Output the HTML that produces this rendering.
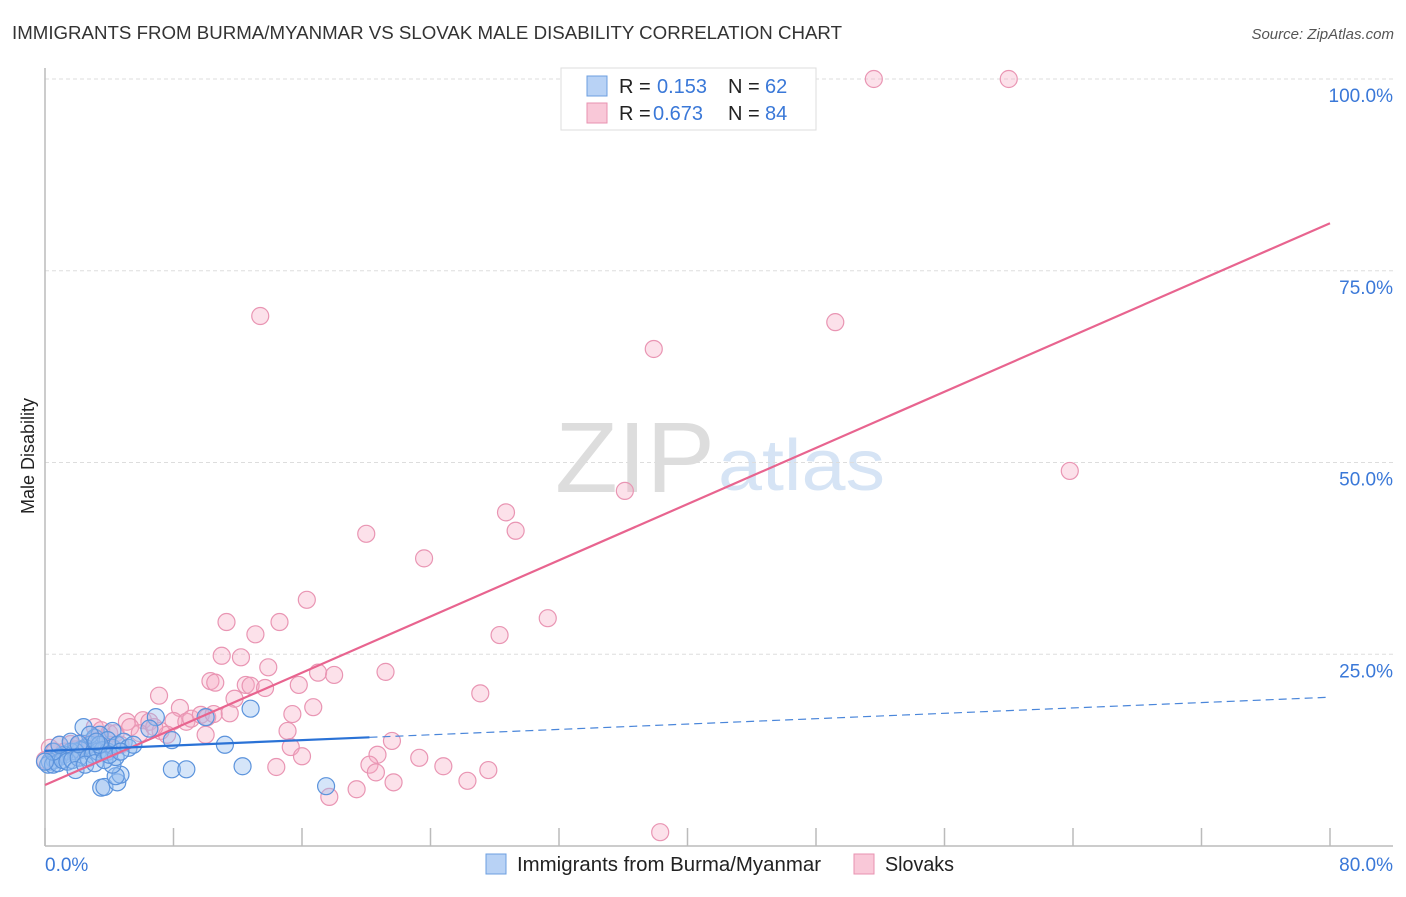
<!DOCTYPE html>
<html><head><meta charset="utf-8"><style>
body{margin:0;background:#fff;font-family:"Liberation Sans",sans-serif;}
svg text{font-family:"Liberation Sans",sans-serif;}
</style></head><body>
<svg id="chart" width="1406" height="892" xmlns="http://www.w3.org/2000/svg">
<text x="12" y="39" font-size="18" fill="#333" textLength="830" lengthAdjust="spacingAndGlyphs">IMMIGRANTS FROM BURMA/MYANMAR VS SLOVAK MALE DISABILITY CORRELATION CHART</text>
<text x="1394" y="39" font-size="15" fill="#555" text-anchor="end" font-style="italic">Source: ZipAtlas.com</text>
<text x="715" y="492" font-size="100" fill="#ddd" font-family="Liberation Serif" text-anchor="end" textLength="160" lengthAdjust="spacingAndGlyphs">ZIP</text>
<text x="718" y="490" font-size="72" fill="#d6e4f5" textLength="167" lengthAdjust="spacingAndGlyphs">atlas</text>
<g id="grid"></g>
<g id="axes"></g>
<g id="pts"></g>
<g id="trend"></g>
<text transform="translate(34,456) rotate(-90)" font-size="18" fill="#222" text-anchor="middle">Male Disability</text>
<g>
<rect x="561" y="68" width="255" height="62" fill="#fff" stroke="#ddd"/>
<rect x="587" y="76" width="20" height="20" fill="#b8d2f5" stroke="#6c9fe0"/>
<text x="619" y="93" font-size="20" fill="#222">R = </text><text x="657" y="93" font-size="20" fill="#3a78d8">0.153</text>
<text x="728" y="93" font-size="20" fill="#222">N = </text><text x="765" y="93" font-size="20" fill="#3a78d8">62</text>
<rect x="587" y="103" width="20" height="20" fill="#f9c8d8" stroke="#e892b0"/>
<text x="619" y="120" font-size="20" fill="#222">R = </text><text x="653" y="120" font-size="20" fill="#3a78d8">0.673</text>
<text x="728" y="120" font-size="20" fill="#222">N = </text><text x="765" y="120" font-size="20" fill="#3a78d8">84</text>
</g>
<g>
<rect x="486" y="854" width="20" height="20" fill="#b8d2f5" stroke="#6c9fe0"/>
<text x="517" y="871" font-size="20" fill="#222" textLength="304" lengthAdjust="spacingAndGlyphs">Immigrants from Burma/Myanmar</text>
<rect x="854" y="854" width="20" height="20" fill="#f9c8d8" stroke="#e892b0"/>
<text x="885" y="871" font-size="20" fill="#222" textLength="69" lengthAdjust="spacingAndGlyphs">Slovaks</text>
</g>
</svg>
<script>
const yTicks=[25,50,75,100];
const yTickLabels=["25.0%","50.0%","75.0%","100.0%"];
const xTicks=[0,8,16,24,32,40,48,56,64,72,80];
const xEndLabels=["0.0%","80.0%"];
const pinkX=[13.4,49.2,37.9,51.6,60.0,63.8,36.1,28.7,29.3,20.0,23.6,16.3,31.3,11.3,14.6,28.3,13.1,11.0,12.2,13.9,17.0,18.0,21.2,10.3,10.6,12.5,12.8,13.7,15.8,11.8,7.1,27.1,8.4,16.7,15.4,11.5,3.1,5.1,6.1,6.5,8.0,8.8,9.1,9.7,10.1,10.5,3.5,4.0,4.4,5.3,7.2,7.6,10.0,15.1,21.6,15.3,20.7,16.0,23.3,24.8,27.6,20.2,20.6,14.4,21.7,26.3,17.7,19.4,38.3,0.3,0.9,1.6,2.2,2.8,3.4,4.7,0.6,1.2,1.9,2.5,0,4.0,5.9,6.8];
const pinkY=[69.1,68.3,64.8,100,100,48.9,46.3,43.5,41.1,40.7,37.5,32.1,29.7,29.2,29.2,27.5,27.6,24.8,24.6,23.3,22.6,22.3,22.7,21.5,21.3,21.0,20.9,20.6,21.0,19.2,19.6,19.9,18.0,18.1,17.2,17.3,15.5,16.2,16.4,16.2,16.3,16.2,16.6,17.1,16.8,17.2,15.1,14.7,14.7,15.5,15.0,14.5,14.5,15.0,13.7,12.9,11.9,11.7,11.5,10.4,9.9,10.6,9.6,10.3,8.3,8.5,6.4,7.4,1.8,12.8,13.2,13.3,13.4,13.3,13.8,13.2,12.3,12.3,12.6,12.8,11.2,13.2,14.7,15.5];
const blueX=[2.4,6.9,10.0,12.8,4.2,6.5,7.9,11.2,12.3,7.9,8.8,17.5,3.5,3.7,4.5,4.7,4.4,4.2,3.1,3.4,3.9,2.8,2.5,2.2,1.9,1.6,1.2,0.9,0.6,0.3,0.2,0.5,0.8,1.1,1.4,1.7,2.1,2.7,3.0,3.3,3.6,3.9,4.2,4.5,4.9,5.2,5.5,1.9,2.5,3.1,3.7,4.4,0.5,0,0.9,1.6,2.8,3.4,4.0,4.7,3.2,2.1];
const blueY=[15.5,16.8,16.8,17.9,15.0,15.3,13.8,13.2,10.4,10.0,10.0,7.8,7.6,7.7,8.3,9.3,9.1,10.6,14.1,14.5,13.8,13.2,12.8,12.5,12.3,12.3,11.9,11.6,11.2,11.0,10.6,10.6,10.8,11.2,11.0,11.2,11.5,11.5,11.9,12.3,12.5,12.3,12.8,13.2,13.6,12.8,13.2,9.9,10.6,10.8,11.2,11.6,12.3,11.0,13.2,13.6,14.5,13.2,11.9,12.3,13.6,13.3];
const pinkTrend=[7.95,81.2];
const blueTrend=[12.4,19.4];
const blueSolidEnd=20.2;

const NS="http://www.w3.org/2000/svg";
const sx=v=>45+v*16.0625;
const sy=v=>846-v*7.67;
function mk(parent,tag,attrs){const e=document.createElementNS(NS,tag);for(const k in attrs)e.setAttribute(k,attrs[k]);document.getElementById(parent).appendChild(e);return e;}
yTicks.forEach((t,i)=>{
 const l=mk('grid','line',{x1:45,x2:1393,y1:sy(t),y2:sy(t),stroke:'#ddd','stroke-dasharray':'4,3'});
 
 
 const tx=mk('grid','text',{x:1393,y:sy(t)+23,'font-size':19,fill:'#3a78d8','text-anchor':'end'});
 tx.textContent=yTickLabels[i];
 
 
});
let ax=mk('axes','line',{x1:45,x2:45,y1:68,y2:846,stroke:'#bbb','stroke-width':1.5});


ax=mk('axes','line',{x1:45,x2:1393,y1:846,y2:846,stroke:'#bbb','stroke-width':1.5});


xTicks.forEach(t=>{
 const l=mk('axes','line',{x1:sx(t),x2:sx(t),y1:828,y2:846,stroke:'#bbb','stroke-width':1.5});
 
 
});
let xl=mk('axes','text',{x:45,y:871,'font-size':19,fill:'#3a78d8'});xl.textContent=xEndLabels[0];


xl=mk('axes','text',{x:1393,y:871,'font-size':19,fill:'#3a78d8','text-anchor':'end'});xl.textContent=xEndLabels[1];


pinkX.forEach((x,i)=>{
 const c=mk('pts','circle',{cx:sx(x),cy:sy(pinkY[i]),r:8.5,fill:'rgba(246,170,196,0.35)',stroke:'#e995b3','stroke-width':1.2});
 
 
});
blueX.forEach((x,i)=>{
 const c=mk('pts','circle',{cx:sx(x),cy:sy(blueY[i]),r:8.5,fill:'rgba(150,190,240,0.4)',stroke:'#5b93dc','stroke-width':1.2});
 
 
});
const by=x=>blueTrend[0]+(blueTrend[1]-blueTrend[0])*x/80;
let tl=mk('trend','line',{x1:sx(0),y1:sy(pinkTrend[0]),x2:sx(80),y2:sy(pinkTrend[1]),stroke:'#e8648f','stroke-width':2.2});


tl=mk('trend','line',{x1:sx(0),y1:sy(by(0)),x2:sx(blueSolidEnd),y2:sy(by(blueSolidEnd)),stroke:'#2a72d6','stroke-width':2.2});


tl=mk('trend','line',{x1:sx(blueSolidEnd),y1:sy(by(blueSolidEnd)),x2:sx(80),y2:sy(by(80)),stroke:'#4a86da','stroke-width':1.2,'stroke-dasharray':'8,5'});


</script>
</body></html>
